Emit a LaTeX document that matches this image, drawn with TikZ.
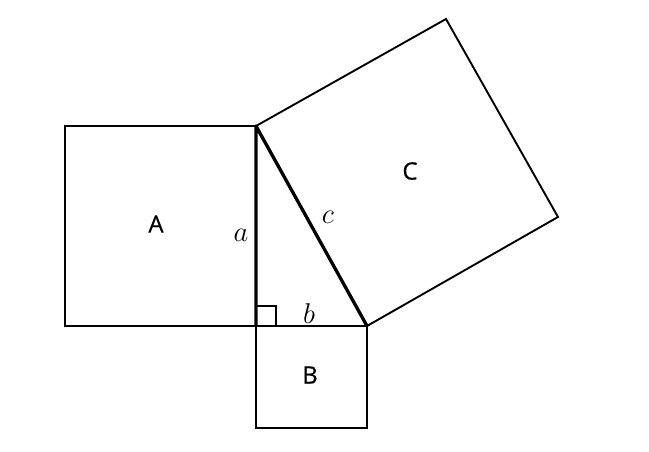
\documentclass[tikz,border=0pt]{standalone}
\usepackage{amsmath,amssymb}
\usepackage{graphicx}
\usepackage{fontspec}
\newfontfamily\lblfont[FakeBold=0.6]{Open Sans}
\usepackage{tikz}
\newcommand{\sidetxt}[1]{\scalebox{1.15}{$#1$}}

\begin{document}
\begin{tikzpicture}[x=1pt,y=-1pt]
		\tikzstyle{every node}=[draw=none, inner sep=0pt]
		\tikzstyle{sqlabel}=[font=\lblfont\fontsize{24}{24}\selectfont]
		\tikzstyle{sidelabel}=[font=\fontsize{24.88}{25}\selectfont]
		\useasboundingbox (0,0) rectangle (649,452);
		% Triangle corners
		\coordinate (top) at (256,126);
		\coordinate (rt) at (256,326);
		\coordinate (rgt) at (367,326);
		
		% Square A
		\draw[line width=1.9pt] (65,126) rectangle (rt);
		% Square B
		\draw[line width=1.9pt] (rt) -- (256,428) -- (367,428) -- (rgt);
		% Square C
		\coordinate (c3) at (558,217);
		\coordinate (c4) at (446,19);
		\draw[line width=1.9pt] (rgt) -- (c3) -- (c4) -- (top);
		
		% Triangle
		\draw[line width=1.9pt] (rt) -- (rgt);
		\draw[line width=3.3pt, line cap=round, line join=round] (rt) -- (top) -- (rgt);
		\draw[line width=1.9pt] (256,306) -- (276,306) -- (276,326);
		
		\draw{
			(156,224)node[sqlabel](labA){A}
			(310,375)node[sqlabel](labB){B}
			(410,171)node[sqlabel](labC){C}
			(241,235)node[sidelabel](laba){\sidetxt{a}}
			(309,314)node[sidelabel](labb){\sidetxt{b}}
			(328,217)node[sidelabel](labc){\sidetxt{c}}
		};
	\end{tikzpicture}
\end{document}
